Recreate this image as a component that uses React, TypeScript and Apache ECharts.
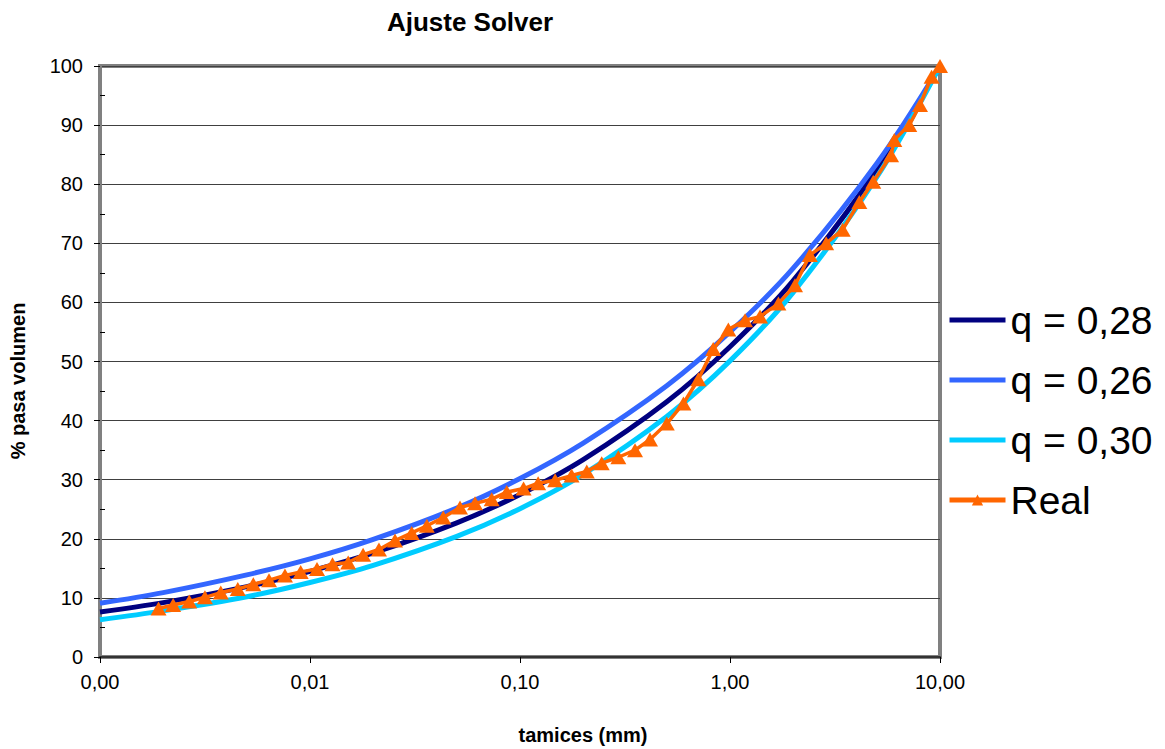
import React, { useEffect, useRef } from "react";
import * as echarts from "echarts";

// Fitted curves (at selected sieve sizes, mm)
const fitSizes = [0.001, 0.002, 0.005, 0.01, 0.02, 0.05, 0.1, 0.2, 0.5, 1, 2, 5, 10];
const q028 = [7.6, 9.2, 11.9, 14.5, 17.6, 22.7, 27.5, 33.4, 43.2, 52.5, 63.7, 82.4, 100];
const q026 = [9.1, 10.9, 13.9, 16.6, 19.9, 25.2, 30.2, 36.2, 45.9, 55.0, 65.8, 83.5, 100];
const q030 = [6.3, 7.8, 10.2, 12.6, 15.5, 20.4, 25.1, 30.9, 40.7, 50.1, 61.7, 81.2, 100];

// Measured data ("Real")
const realSizes = [
  0.0019, 0.00223, 0.00266, 0.00316, 0.00376, 0.00453, 0.00537, 0.00638, 0.0076, 0.00903,
  0.0108, 0.0128, 0.0152, 0.0179, 0.0213, 0.0254, 0.0305, 0.036, 0.0431, 0.0518,
  0.0611, 0.0733, 0.0865, 0.104, 0.122, 0.147, 0.176, 0.208, 0.245, 0.294,
  0.353, 0.416, 0.5, 0.6, 0.707, 0.832, 0.982, 1.18, 1.39, 1.7,
  2.04, 2.4, 2.87, 3.44, 4.13, 4.81, 5.85, 6.06, 7.14, 8.03,
  9.12, 10,
];
const realPass = [
  8.2, 8.8, 9.4, 10.1, 10.9, 11.5, 12.3, 13.0, 13.8, 14.4,
  14.9, 15.7, 16.0, 17.3, 18.2, 19.7, 21.0, 22.2, 23.6, 25.3,
  26.0, 26.7, 27.9, 28.5, 29.4, 29.9, 30.7, 31.4, 32.8, 33.8,
  35.0, 36.8, 39.5, 42.9, 47.0, 52.1, 55.4, 57.0, 57.6, 59.8,
  62.9, 68.0, 70.0, 72.3, 77.0, 80.4, 84.9, 87.5, 90.0, 93.4,
  98.2, 100,
];

const seriesNames = ["q = 0,28", "q = 0,26", "q = 0,30", "Real"];
const title = "Ajuste Solver";
const xName = "tamices (mm)";
const yName = "% pasa volumen";

const FONT = "'Liberation Sans', Arial, Helvetica, sans-serif";
const BAR_ICON = "path://M0,0 L56,0 L56,5 L0,5 Z";

const pairs = (xs: number[], ys: number[]) => xs.map((x, i) => [x, ys[i]]);

export default function App() {
  const ref = useRef<HTMLDivElement>(null);
  useEffect(() => {
    if (!ref.current) return;
    const chart = echarts.init(ref.current, undefined, { renderer: "svg" });
    const fitLine = (name: string, data: number[], color: string) => ({
      name,
      type: "line",
      data: pairs(fitSizes, data),
      smooth: 0.35,
      symbol: "none",
      showSymbol: false,
      lineStyle: { color, width: 5 },
      itemStyle: { color },
      z: 2,
    });
    chart.setOption({
      animation: false,
      backgroundColor: "#ffffff",
      textStyle: { fontFamily: FONT },
      grid: {
        left: 100,
        right: 225,
        top: 66,
        bottom: 92,
        show: true,
        borderColor: "#808080",
        borderWidth: 4,
        backgroundColor: "transparent",
      },
      legend: {
        orient: "vertical",
        left: 947,
        top: 297,
        padding: 0,
        itemGap: 14,
        itemWidth: 56,
        itemHeight: 14,
        selectedMode: false,
        data: [
          { name: seriesNames[0], icon: BAR_ICON },
          { name: seriesNames[1], icon: BAR_ICON },
          { name: seriesNames[2], icon: BAR_ICON },
          { name: seriesNames[3], lineStyle: { width: 5, color: "#FF6600" } },
        ],
        textStyle: { fontSize: 39, fontFamily: FONT, color: "#000", lineHeight: 46 },
      },
      xAxis: {
        type: "log",
        logBase: 10,
        min: 0.001,
        max: 10,
        axisLine: { show: true, lineStyle: { color: "#333", width: 2 } },
        axisTick: { show: true, length: 6, lineStyle: { color: "#000" } },
        minorTick: { show: false },
        splitLine: { show: false },
        axisLabel: {
          fontSize: 20,
          color: "#000",
          fontFamily: FONT,
          margin: 15,
          formatter: (v: number) => v.toFixed(2).replace(".", ","),
        },
      },
      yAxis: {
        type: "value",
        min: 0,
        max: 100,
        interval: 10,
        axisLine: { show: true, lineStyle: { color: "#808080", width: 4 } },
        axisTick: { show: true, length: 6, lineStyle: { color: "#000" } },
        minorTick: { show: true, splitNumber: 2, length: -5, lineStyle: { color: "#000" } },
        splitLine: { show: true, lineStyle: { color: "#404040", width: 1 } },
        axisLabel: { fontSize: 20, color: "#000", fontFamily: FONT, margin: 17 },
      },
      graphic: [
        {
          type: "text",
          x: 470,
          y: 22,
          style: { text: title, font: `bold 26px ${FONT}`, fill: "#000", align: "center", verticalAlign: "middle" },
        },
        {
          type: "text",
          x: 583,
          y: 735,
          style: { text: xName, font: `bold 20px ${FONT}`, fill: "#000", align: "center", verticalAlign: "middle" },
        },
        {
          type: "text",
          x: 18,
          y: 381,
          rotation: Math.PI / 2,
          style: { text: yName, font: `bold 20px ${FONT}`, fill: "#000", align: "center", verticalAlign: "middle" },
        },
      ],
      series: [
        fitLine(seriesNames[0], q028, "#000080"),
        fitLine(seriesNames[1], q026, "#3366FF"),
        fitLine(seriesNames[2], q030, "#00CCFF"),
        {
          name: seriesNames[3],
          type: "line",
          data: pairs(realSizes, realPass),
          symbol: "triangle",
          symbolSize: [16, 14],
          showAllSymbol: true,
          lineStyle: { color: "#FF6600", width: 3.5 },
          itemStyle: { color: "#FF6600" },
          z: 3,
        },
      ],
    });
    return () => chart.dispose();
  }, []);
  return (
    <div
      ref={ref}
      style={{ position: "fixed", left: 0, top: 0, width: 1165, height: 749, background: "#fff" }}
    />
  );
}
